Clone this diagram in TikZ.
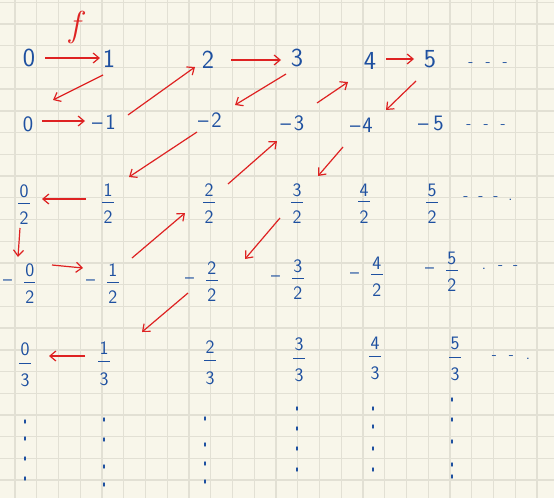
\documentclass[tikz,border=0pt]{standalone}
\usepackage{fontspec}
\usetikzlibrary{arrows.meta}
\definecolor{paper}{RGB}{248,246,234}
\definecolor{gridc}{RGB}{226,224,212}
\definecolor{ink}{RGB}{30,80,160}
\definecolor{redink}{RGB}{222,34,34}
\newcommand\myfrk[4]{$\vcenter{\offinterlineskip\halign{\hfil##\hfil\cr\hbox{#3}\cr\noalign{\kern#1}\hbox{\rule{0.6em}{0.8pt}}\cr\noalign{\kern#2}\hbox{#4}\cr}}$}
\newcommand\myfr[2]{\myfrk{5pt}{8pt}{#1}{#2}}
\newcommand\myfrc[2]{\myfrk{7pt}{10pt}{#1}{#2}}
\newcommand\negfr[2]{\raisebox{2pt}{\textendash}\hspace{12pt}\myfr{#1}{#2}}
\begin{document}
\begin{tikzpicture}[x=1pt,y=-1pt,
  big/.style={text=ink,font=\sffamily\fontsize{26}{28}\selectfont,inner sep=0pt},
  mid/.style={text=ink,font=\sffamily\fontsize{22}{24}\selectfont,inner sep=0pt},
  frc/.style={text=ink,font=\sffamily\fontsize{19}{21}\selectfont,inner sep=0pt},
  etc/.style={text=ink,font=\sffamily\fontsize{16}{18}\selectfont,inner sep=0pt},
  gridline/.style={draw=gridc,line width=1.4pt},
  arr/.style={draw=redink,line width=1.2pt,-{Straight Barb[length=6pt,width=10pt]}},
  vdot/.style={draw=ink,line width=1.4pt,line cap=round}]
\useasboundingbox (0,0) rectangle (554,498);
\fill[paper] (0,0) rectangle (554,498);
\foreach \i in {0,...,24} \draw[gridline] ({15+21.75*\i},0) -- ++(0,498);
\foreach \j in {0,...,22} \draw[gridline] (0,{2.3+21.72*\j}) -- ++(554,0);

% label f
\node[text=redink,font=\rmfamily\itshape\fontsize{36}{38}\selectfont,inner sep=0pt] (flab) at (75,27) {f};

% row 1
\node[big] (r1a) at (29,58) {0};
\node[big] (r1b) at (109,59) {1};
\node[big] (r1c) at (208,60) {2};
\node[big] (r1d) at (297,58) {3};
\node[big] (r1e) at (370,61) {4};
\node[big] (r1f) at (430,59) {5};
\node[etc] (r1g) at (488,65) {-\hspace{12pt}-\hspace{12pt}-};

% row 2
\node[mid] (r2a) at (28,124) {0};
\node[mid] (r2b) at (104,122.5) {\textendash\hspace{3pt}1};
\node[mid] (r2c) at (210,120.5) {\textendash\hspace{3pt}2};
\node[mid] (r2d) at (292.5,123) {\textendash\hspace{3pt}3};
\node[mid] (r2e) at (361.5,125) {\textendash\hspace{2pt}4};
\node[mid] (r2f) at (431,123) {\textendash\hspace{5pt}5};
\node[etc] (r2g) at (486,127) {-\hspace{12pt}-\hspace{12pt}-};

% row 3
\node[frc] (r3a) at (24,204.5) {\myfr{0}{2}};
\node[frc] (r3b) at (108,203.5) {\myfr{1}{2}};
\node[frc] (r3c) at (209,203.5) {\myfr{2}{2}};
\node[frc] (r3d) at (297,203.5) {\myfr{3}{2}};
\node[frc] (r3e) at (364,203.5) {\myfr{4}{2}};
\node[frc] (r3f) at (432,203.5) {\myfr{5}{2}};
\node[etc] (r3g) at (488,199) {-\hspace{10pt}-\hspace{10pt}-\hspace{10pt}.};

% row 4
\node[frc,anchor=east] (r4a) at (35.7,283.5) {\negfr{0}{2}};
\node[frc,anchor=east] (r4b) at (118.7,283.5) {\negfr{1}{2}};
\node[frc,anchor=east] (r4c) at (217.7,281.5) {\negfr{2}{2}};
\node[frc,anchor=east] (r4d) at (303.7,279.5) {\negfr{3}{2}};
\node[frc,anchor=east] (r4e) at (382.7,276.5) {\negfr{4}{2}};
\node[frc,anchor=east] (r4f) at (457.7,271.5) {\negfr{5}{2}};
\node[etc] (r4g) at (500,268) {.\hspace{12pt}-\hspace{10pt}-};

% row 5
\node[frc] (r5a) at (25,364.5) {\myfrc{0}{3}};
\node[frc] (r5b) at (104,363.5) {\myfrc{1}{3}};
\node[frc] (r5c) at (210,362.5) {\myfrc{2}{3}};
\node[frc] (r5d) at (299,359.5) {\myfrc{3}{3}};
\node[frc] (r5e) at (375,358.5) {\myfrc{4}{3}};
\node[frc] (r5f) at (455,359) {\myfrc{5}{3}};
\node[etc] (r5g) at (511,358) {-\hspace{12pt}-\hspace{12pt}.};

% vertical dots
\foreach \p in {(25,420),(25,437),(25,457),(25,477),
                (104,418),(104,438),(104,465),(104,483),
                (205,417),(205,443),(205,462),(205,480),
                (297,407),(297,427),(297,447),(297,468),
                (373,407),(373,425),(373,447),(373,468),
                (452,398),(452,418),(452,440),(452,463),(452,475)}
  \draw[vdot] \p -- ++(0,3);

% arrow end points
\coordinate (a1s) at (45,58);    \coordinate (a1e) at (100,58);
\coordinate (a2s) at (103,75);   \coordinate (a2e) at (53,100);
\coordinate (a3s) at (42,121);   \coordinate (a3e) at (85,121);
\coordinate (a4s) at (128,115);  \coordinate (a4e) at (195,67);
\coordinate (a5s) at (231,60);   \coordinate (a5e) at (281,60);
\coordinate (a6s) at (286,74);   \coordinate (a6e) at (235,105);
\coordinate (a7s) at (197,132);  \coordinate (a7e) at (129,177);
\coordinate (a8s) at (86,199);   \coordinate (a8e) at (42,199);
\coordinate (a9s) at (20,228);   \coordinate (a9e) at (18,257);
\coordinate (a10s) at (52,265);  \coordinate (a10e) at (83,268);
\coordinate (a11s) at (132,258); \coordinate (a11e) at (185,213);
\coordinate (a12s) at (228,184); \coordinate (a12e) at (277,141);
\coordinate (a13s) at (317,103); \coordinate (a13e) at (348,82);
\coordinate (a14s) at (386,59);  \coordinate (a14e) at (414,59);
\coordinate (a15s) at (416,81);  \coordinate (a15e) at (386,110);
\coordinate (a16s) at (343,147); \coordinate (a16e) at (318,176);
\coordinate (a17s) at (280,218); \coordinate (a17e) at (245,259);
\coordinate (a18s) at (188,293); \coordinate (a18e) at (142,332);
\coordinate (a19s) at (85,356);  \coordinate (a19e) at (49,356);

\foreach \k in {1,...,19} \draw[arr] (a\k s) -- (a\k e);
\end{tikzpicture}
\end{document}
